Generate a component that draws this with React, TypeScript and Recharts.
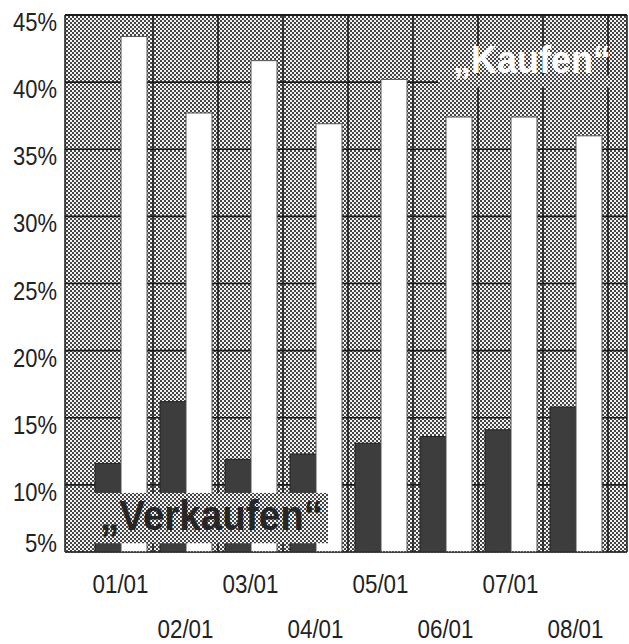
import React from 'react';
import { BarChart, Bar, XAxis, YAxis, CartesianGrid, ReferenceArea } from 'recharts';

const months = ['01/01', '02/01', '03/01', '04/01', '05/01', '06/01', '07/01', '08/01'];
const verkaufen = [11.6, 16.2, 11.9, 12.3, 13.1, 13.6, 14.1, 15.8];
const kaufen = [43.4, 37.7, 41.6, 36.9, 40.2, 37.4, 37.4, 36.0];
const yTicks = [5, 10, 15, 20, 25, 30, 35, 40, 45];

const data = months.map((m, i) => ({ month: m, verkaufen: verkaufen[i], kaufen: kaufen[i] }));

const FONT = '"Liberation Sans", Arial, sans-serif';
const PAD_L = 23;
const PAD_R = 19;

// vertical grid lines sit on the boundaries between month groups
const verticalGen = (args: any) => {
  const off = args && args.offset;
  if (!off) return [];
  const start = off.left + PAD_L;
  const step = (off.width - PAD_L - PAD_R) / months.length;
  return months.map((_, i) => start + (i + 1) * step);
};

const labelWidth = (s: string) => {
  let w = 0;
  for (const c of s) w += c === '%' ? 20 : c === '/' ? 6 : 12;
  return w;
};

const YTick = (props: any) => {
  const { x, y, payload } = props;
  const s = `${payload.value}%`;
  return (
    <text
      x={x}
      y={y}
      dy={payload.value === 5 ? 0 : 16}
      textAnchor="end"
      fontFamily={FONT}
      fontSize={25}
      fill="#222"
      textLength={labelWidth(s)}
      lengthAdjust="spacingAndGlyphs"
    >
      {s}
    </text>
  );
};

const XTick = (props: any) => {
  const { x, y, payload, index } = props;
  const s = String(payload.value);
  return (
    <text
      x={x}
      y={y + (index % 2 === 0 ? 41 : 86)}
      textAnchor="middle"
      fontFamily={FONT}
      fontSize={25}
      fill="#222"
      textLength={labelWidth(s) + 2}
      lengthAdjust="spacingAndGlyphs"
    >
      {s}
    </text>
  );
};

const VerkaufenBox = (p: any) => {
  const left = p.x - PAD_L;
  return (
    <g>
      <rect x={left} y={p.y} width={263} height={p.height} fill="url(#dots)" />
      <text
        x={left + 35}
        y={p.y + 37}
        fontFamily={FONT}
        fontWeight="bold"
        fontSize={42}
        fill="#262626"
        textLength={223}
        lengthAdjust="spacingAndGlyphs"
      >
        „Verkaufen“
      </text>
    </g>
  );
};

const KaufenBox = (p: any) => {
  const left = p.x - PAD_L;
  const right = p.x + p.width + PAD_R;
  return (
    <g>
      <rect x={left + 373} y={p.y} width={right - left - 374} height={p.height} fill="url(#dots)" />
      <text
        x={left + 388}
        y={p.y - 2}
        fontFamily={FONT}
        fontWeight="bold"
        fontSize={38}
        fill="#ffffff"
        textLength={158}
        lengthAdjust="spacingAndGlyphs"
      >
        „Kaufen“
      </text>
    </g>
  );
};

const BorderBox = (p: any) => {
  const left = p.x - PAD_L;
  const right = p.x + p.width + PAD_R;
  return (
    <g>
      <line x1={left} y1={p.y} x2={right} y2={p.y} stroke="#1a1a1a" strokeWidth={1.8} />
      <line x1={left} y1={p.y} x2={left} y2={p.y + p.height} stroke="#1a1a1a" strokeWidth={1.5} />
      <line x1={right} y1={p.y} x2={right} y2={p.y + p.height} stroke="#1a1a1a" strokeWidth={1.5} />
      <line x1={left} y1={p.y + p.height} x2={right} y2={p.y + p.height} stroke="#333" strokeWidth={1.5} strokeDasharray="2 1" />
    </g>
  );
};

export default function App() {
  return (
    <div style={{ position: 'absolute', left: 0, top: 0, width: 629, height: 644, background: '#fff' }}>
      <BarChart
        width={629}
        height={644}
        data={data}
        margin={{ top: 15, right: 2, bottom: 0, left: 0 }}
        barGap={0}
      >
        <defs>
          <pattern id="dots" patternUnits="userSpaceOnUse" width="4" height="4">
            <rect x="0" y="0" width="4" height="4" fill="#f2f2f2" />
            <rect x="0" y="0" width="2" height="2" fill="#444444" />
            <rect x="2" y="2" width="2" height="2" fill="#444444" />
          </pattern>
        </defs>
        <CartesianGrid
          verticalCoordinatesGenerator={verticalGen}
          fill="url(#dots)"
          stroke="#1a1a1a"
          strokeWidth={1.6}
        />
        <XAxis
          dataKey="month"
          interval={0}
          padding={{ left: PAD_L, right: PAD_R }}
          tick={<XTick />}
          tickLine={false}
          tickSize={0}
          tickMargin={0}
          height={92}
          axisLine={false}
        />
        <YAxis
          domain={[5, 45]}
          ticks={yTicks}
          width={65}
          tick={<YTick />}
          tickLine={false}
          tickSize={0}
          tickMargin={8}
          axisLine={false}
          allowDataOverflow
        />
        <Bar dataKey="verkaufen" barSize={26} fill="#3d3d3d" stroke="#222" strokeWidth={1} isAnimationActive={false} />
        <Bar dataKey="kaufen" barSize={26} fill="#ffffff" stroke="#555" strokeWidth={1} isAnimationActive={false} />
        <ReferenceArea y1={5.65} y2={9.4} shape={VerkaufenBox} zIndex={1500} />
        <ReferenceArea y1={39.6} y2={40.5} shape={KaufenBox} zIndex={1500} />
        <ReferenceArea y1={5} y2={45} shape={BorderBox} zIndex={1600} />
      </BarChart>
    </div>
  );
}
